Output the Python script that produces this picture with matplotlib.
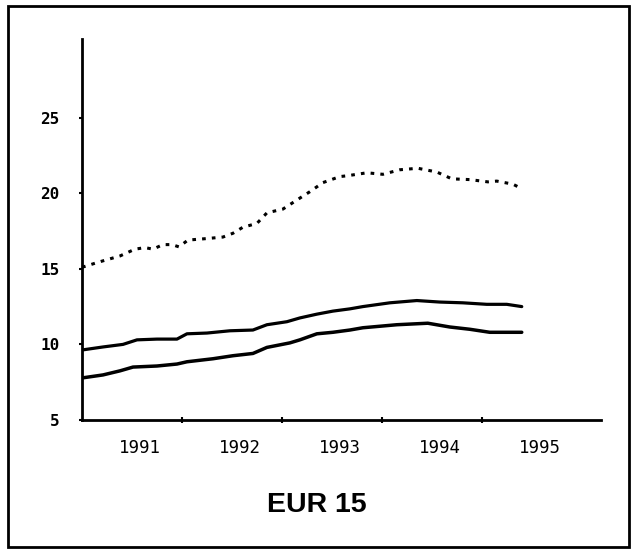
import numpy as np
import matplotlib.pyplot as plt
from matplotlib.patches import Rectangle

# Werte (Jahr als Dezimalzahl)
years_top = [1991.0, 1991.17, 1991.38, 1991.53, 1991.63, 1991.71, 1991.81, 1991.9,
             1991.97, 1992.06, 1992.25, 1992.41, 1992.51, 1992.61, 1992.75, 1992.85,
             1993.01, 1993.15, 1993.28, 1993.41, 1993.58, 1993.65, 1993.85, 1994.01,
             1994.18, 1994.36, 1994.55, 1994.7, 1994.88, 1995.06, 1995.15, 1995.31, 1995.4]
values_top = [15.1, 15.45, 15.85, 16.3, 16.4, 16.3, 16.6, 16.6,
              16.45, 16.9, 17.0, 17.1, 17.35, 17.75, 18.0, 18.7,
              18.95, 19.55, 20.1, 20.7, 21.1, 21.15, 21.35, 21.25,
              21.55, 21.65, 21.4, 20.95, 20.9, 20.75, 20.8, 20.6, 20.3]

years_mid = [1991.0, 1991.21, 1991.41, 1991.55, 1991.75, 1991.95, 1992.05, 1992.25,
             1992.48, 1992.71, 1992.85, 1993.05, 1993.18, 1993.35, 1993.51, 1993.68,
             1993.81, 1994.08, 1994.35, 1994.58, 1994.81, 1995.05, 1995.25, 1995.4]
values_mid = [9.63, 9.83, 10.0, 10.3, 10.35, 10.35, 10.7, 10.75,
              10.9, 10.95, 11.3, 11.5, 11.75, 12.0, 12.2, 12.35,
              12.5, 12.75, 12.9, 12.8, 12.75, 12.65, 12.65, 12.5]

years_low = [1991.0, 1991.21, 1991.38, 1991.51, 1991.75, 1991.95, 1992.05, 1992.31,
             1992.51, 1992.71, 1992.85, 1993.08, 1993.18, 1993.35, 1993.51, 1993.68,
             1993.81, 1994.15, 1994.46, 1994.68, 1994.88, 1995.08, 1995.28, 1995.4]
values_low = [7.78, 7.98, 8.25, 8.5, 8.57, 8.7, 8.85, 9.05,
              9.25, 9.4, 9.8, 10.1, 10.3, 10.7, 10.8, 10.95,
              11.1, 11.3, 11.4, 11.15, 11.0, 10.8, 10.8, 10.8]

year_labels = [1991, 1992, 1993, 1994, 1995]
y_ticks = [5, 10, 15, 20, 25]

fig = plt.figure(figsize=(6.31, 5.5), dpi=100)
ax = fig.add_axes([0.130, 0.2364, 0.822, 0.6927])

ax.plot(years_top, values_top, color="black", lw=2.2, linestyle=(0, (1.2, 2.0)))
ax.plot(years_mid, values_mid, color="black", lw=2.3, solid_capstyle="round")
ax.plot(years_low, values_low, color="black", lw=2.5, solid_capstyle="round")

ax.set_xlim(1991.0, 1996.19)
ax.set_ylim(5, 30.2)

# Jahresgrenzen als Ticks, Beschriftung in der Jahresmitte
ax.set_xticks(year_labels[1:])
ax.set_xticklabels([])
ax.set_xticks([y + 0.58 for y in year_labels], minor=True)
ax.set_xticklabels([str(y) for y in year_labels], minor=True,
                   fontfamily="DejaVu Sans Mono", fontsize=12.5)
ax.tick_params(axis="x", which="major", direction="inout", length=4, width=1.5)
ax.tick_params(axis="x", which="minor", length=0, pad=14)

ax.set_yticks(y_ticks)
ax.set_yticklabels([str(v) for v in y_ticks],
                   fontfamily="DejaVu Sans Mono", fontweight="bold", fontsize=11.5)
ax.tick_params(axis="y", direction="out", length=2, width=1.5, pad=14)

for side in ["top", "right"]:
    ax.spines[side].set_visible(False)
for side in ["left", "bottom"]:
    ax.spines[side].set_linewidth(2)

fig.text(0.502, 0.082, "EUR 15", ha="center", va="center",
         fontfamily="Liberation Sans", fontweight="bold", fontsize=20.5)

# Rahmen um die ganze Grafik
fig.patches.append(Rectangle((8 / 631, 3 / 550), 621 / 631, 541 / 550,
                             transform=fig.transFigure, fill=False,
                             edgecolor="black", linewidth=2))

fig.savefig("out.png", dpi=100)
